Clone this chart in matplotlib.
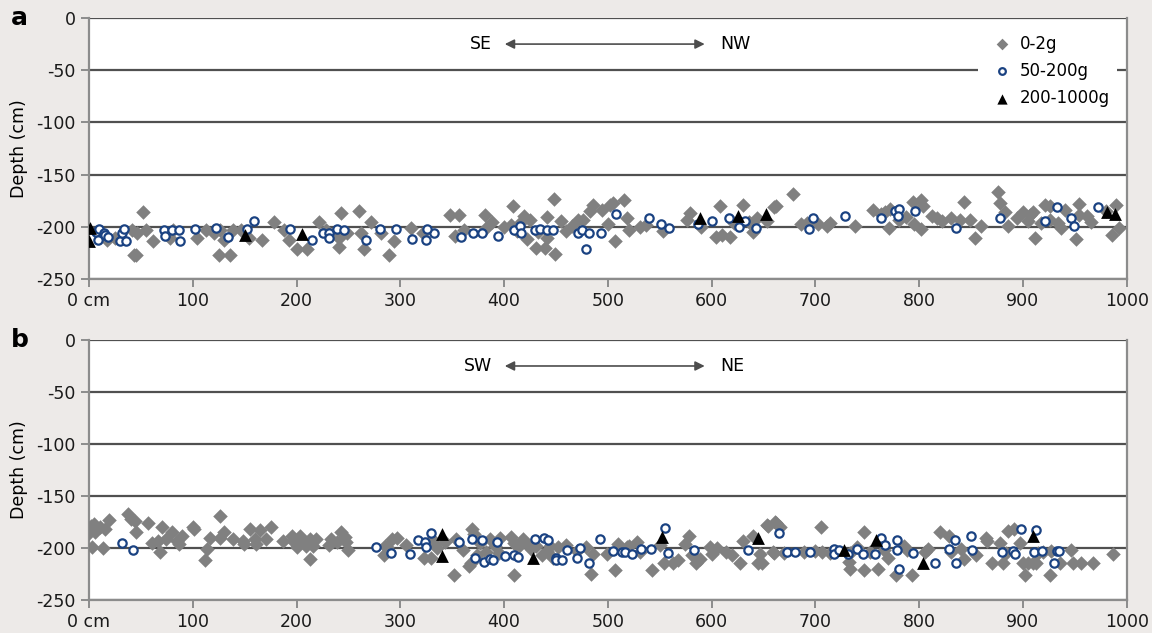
import matplotlib
matplotlib.use('Agg')
import matplotlib.pyplot as plt
import numpy as np

plt.rcParams['font.family'] = ['DejaVu Sans']
plt.rcParams['axes.unicode_minus'] = False

# panel a : SE - NW transect
a_small_x = [52, 10, 17, 25, 43, 45, 41, 46, 62, 55, 81, 78, 104, 113, 120, 126, 125, 136, 130, 139,
             146, 154, 167, 178, 188, 193, 200, 210, 222, 228, 236, 241, 243, 241, 249, 260, 262, 265,
             272, 281, 289, 294, 310, 322, 348, 357, 353, 361, 382, 388, 383, 409, 407, 412, 419, 425,
             422, 431, 439, 441, 448, 449, 441, 455, 460, 471, 476, 483, 486, 494, 502, 505, 500, 507,
             516, 518, 531, 537, 553, 576, 579, 608, 610, 618, 630, 636, 644, 660, 653, 662, 678, 686,
             692, 703, 711, 714, 738, 756, 763, 767, 771, 772, 781, 787, 794, 802, 804, 802, 812, 817,
             822, 831, 839, 843, 849, 854, 876, 878, 883, 886, 894, 900, 907, 910, 912, 917, 921, 926,
             926, 934, 937, 941, 951, 954, 954, 962, 966, 980, 986, 990, 993, 400, 415, 433, 465, 520,
             590, 604, 622, 640, 795, 860, 905]
a_small_y = [-186, -206, -213, -211, -227, -227, -203, -206, -214, -203, -203, -211, -211, -203, -206, -203, -227, -227, -213, -203,
             -203, -211, -213, -195, -203, -213, -221, -221, -195, -203, -206, -211, -187, -219, -206, -185, -206, -221,
             -195, -206, -227, -214, -201, -206, -189, -189, -209, -203, -189, -195, -201, -180, -198, -204, -190, -193,
             -212, -220, -220, -191, -173, -226, -211, -194, -204, -193, -193, -185, -179, -184, -179, -177, -197, -214,
             -174, -192, -200, -198, -204, -193, -187, -180, -208, -210, -179, -195, -192, -181, -194, -180, -169, -197,
             -196, -197, -199, -196, -199, -184, -188, -186, -201, -183, -193, -191, -176, -174, -180, -202, -190, -192,
             -194, -192, -193, -176, -193, -211, -167, -177, -186, -199, -192, -186, -189, -186, -211, -196, -179, -180,
             -193, -196, -201, -184, -212, -178, -189, -190, -195, -185, -208, -179, -201, -200, -196, -205, -199, -203,
             -200, -210, -196, -205, -197, -199, -194]
a_mid_x = [7, 9, 10, 14, 15, 18, 30, 32, 34, 36, 72, 73, 80, 87, 88, 102, 122, 134, 152, 159, 194, 215, 225,
           231, 231, 239, 246, 267, 280, 296, 311, 325, 332, 326, 358, 370, 379, 394, 410, 415, 416, 430,
           435, 441, 447, 471, 475, 482, 479, 493, 508, 540, 551, 559, 587, 600, 617, 626, 632, 643, 694,
           698, 729, 763, 777, 781, 780, 796, 836, 878, 921, 933, 946, 949, 972]
a_mid_y = [-205, -213, -202, -206, -208, -210, -214, -206, -202, -214, -203, -209, -203, -203, -214, -202, -201, -210, -202, -194, -202, -213, -206,
           -206, -211, -202, -203, -213, -202, -202, -212, -213, -206, -202, -210, -206, -206, -209, -203, -199, -206, -203,
           -202, -203, -203, -206, -203, -206, -221, -206, -188, -192, -197, -201, -197, -194, -192, -200, -194, -201, -202,
           -192, -190, -192, -185, -183, -190, -185, -201, -192, -194, -181, -192, -199, -181]
a_big_x = [1, 0, 150, 205, 589, 625, 652, 981, 989]
a_big_y = [-201, -214, -208, -207, -192, -190, -188, -186, -188]

# panel b : SW - NE transect
b_small_x = [0, 2, 5, 6, 3, 13, 11, 15, 19, 38, 40, 44, 45, 57, 61, 66, 68, 70, 74, 80, 85, 87, 90, 100, 101,
             112, 114, 117, 126, 126, 130, 139, 148, 149, 155, 160, 161, 165, 171, 175, 187, 196, 197, 200,
             203, 206, 209, 213, 213, 216, 219, 231, 233, 239, 243, 247, 248, 250, 287, 292, 297, 284,
             285, 305, 323, 330, 331, 333, 343, 352, 354, 366, 368, 369, 371, 374, 377, 383, 386, 391, 396,
             407, 410, 410, 413, 418, 422, 426, 431, 437, 441, 444, 447, 460, 479, 484, 486, 499, 507, 510,
             518, 528, 531, 543, 550, 554, 563, 574, 578, 581, 585, 589, 598, 600, 614, 627, 630, 640, 645,
             653, 661, 659, 647, 649, 654, 662, 666, 660, 670, 689, 705, 706, 714, 732, 733, 733, 747, 747, 753,
             760, 766, 778, 785, 788, 793, 806, 809, 820, 829, 831, 843, 855, 864, 865, 870, 878, 881, 884,
             886, 891, 897, 900, 902, 905, 910, 913, 915, 919, 926, 927, 936, 946, 948, 956, 968, 987,
             335, 360, 395, 452, 470, 520, 568, 605, 620, 700, 740, 770, 840]
b_small_y = [-186, -179, -177, -185, -199, -200, -180, -182, -173, -167, -172, -174, -185, -176, -195, -193, -204, -180, -191, -185, -193, -196, -188, -180, -182,
             -212, -201, -190, -169, -190, -185, -191, -193, -196, -182, -191, -196, -183, -191, -180, -193, -188, -193, -199,
             -188, -193, -198, -211, -191, -198, -191, -197, -191, -194, -185, -189, -194, -202, -199, -191, -190, -207,
             -198, -197, -210, -210, -191, -196, -194, -226, -191, -217, -214, -182, -187, -207, -195, -204, -191, -198, -190,
             -189, -195, -226, -199, -191, -196, -201, -198, -207, -203, -198, -210, -197, -199, -225, -206, -206, -221, -196,
             -199, -194, -204, -221, -197, -214, -214, -196, -188, -207, -214, -211, -199, -206, -204, -214, -193, -188, -214,
             -178, -175, -204, -206, -214, -179, -176, -180, -205, -205, -204, -180, -204, -205, -213, -220, -205, -185, -221, -204,
             -220, -202, -226, -198, -202, -226, -204, -201, -185, -188, -204, -211, -207, -190, -193, -214, -195, -214, -205,
             -184, -182, -195, -214, -226, -214, -214, -214, -205, -204, -226, -203, -214, -202, -214, -214, -214, -206,
             -200, -202, -205, -199, -203, -198, -212, -200, -207, -203, -199, -210, -201]
b_mid_x = [32, 42, 277, 291, 309, 317, 324, 325, 330, 357, 369, 372, 379, 381, 386, 389, 393, 401, 410, 413,
           430, 438, 442, 450, 450, 456, 461, 470, 473, 482, 492, 505, 514, 517, 523, 532, 542, 555, 558,
           583, 635, 665, 673, 680, 695, 718, 718, 723, 731, 740, 746, 757, 763, 767, 779, 779, 781, 794,
           815, 829, 835, 836, 850, 851, 880, 890, 892, 898, 911, 913, 918, 930, 933, 935]
b_mid_y = [-195, -202, -199, -205, -206, -192, -194, -199, -186, -194, -191, -210, -192, -213, -211, -212, -194, -208, -207, -209,
           -191, -190, -192, -210, -212, -212, -202, -210, -200, -214, -191, -203, -204, -204, -206, -201, -201, -181, -205,
           -202, -202, -186, -204, -204, -204, -201, -206, -202, -206, -201, -206, -206, -190, -197, -192, -202, -220, -205,
           -214, -201, -192, -214, -188, -202, -204, -203, -206, -182, -204, -183, -203, -214, -203, -203]
b_big_x = [340, 340, 428, 552, 645, 728, 758, 804, 910]
b_big_y = [-187, -208, -210, -189, -190, -202, -192, -214, -188]

fig = plt.figure(figsize=(11.52, 6.33), dpi=100, facecolor='#edeae8')
ax1 = fig.add_axes([0.0773, 0.5592, 0.9007, 0.4124])
ax2 = fig.add_axes([0.0773, 0.0521, 0.9007, 0.4108])

panels = [(ax1, a_small_x, a_small_y, a_mid_x, a_mid_y, a_big_x, a_big_y, 'a', 'SE', 'NW'),
          (ax2, b_small_x, b_small_y, b_mid_x, b_mid_y, b_big_x, b_big_y, 'b', 'SW', 'NE')]

for ax, sx, sy, mx, my, bx, by, lab, left, right in panels:
    ax.set_facecolor('white')
    ax.set_xlim(0, 1000)
    ax.set_ylim(-250, 0)
    ax.set_axisbelow(True)
    ax.grid(axis='y', color='#505050', linewidth=1.6)
    ax.set_yticks([0, -50, -100, -150, -200, -250])
    ax.set_xticks(range(0, 1001, 100))
    ax.set_xticklabels(['0 cm'] + [str(v) for v in range(100, 1001, 100)])
    for s in ['left', 'bottom', 'right']:
        ax.spines[s].set_color('#8c8c8c')
        ax.spines[s].set_linewidth(1.6)
    ax.spines['top'].set_visible(False)
    ax.tick_params(axis='both', colors='#8c8c8c', labelcolor='#1a1a1a', labelsize=12.5,
                   length=6, width=1.4, direction='out')
    ax.set_ylabel('Depth (cm)', fontsize=12.5, labelpad=6)

    ax.scatter(sx, sy, marker='D', s=55, color='#808080', linewidths=0, label='0-2g', zorder=3)
    ax.scatter(mx, my, marker='o', s=36, facecolors='white', edgecolors='#1a4282',
               linewidths=1.6, label='50-200g', zorder=4)
    ax.scatter(bx, by, marker='^', s=85, color='black', linewidths=0, label='200-1000g', zorder=5)

    ax.annotate('', xy=(398, -25), xytext=(596, -25),
                arrowprops=dict(arrowstyle='<|-|>', color='#4d4d4d', lw=1.2, mutation_scale=14))
    ax.text(388, -25, left, ha='right', va='center', fontsize=12.5)
    ax.text(608, -25, right, ha='left', va='center', fontsize=12.5)
    ax.text(-0.075, 1.0, lab, transform=ax.transAxes, fontsize=18, fontweight='bold',
            ha='left', va='center')

leg = ax1.legend(loc='upper right', fontsize=12, frameon=True, facecolor='white',
                 edgecolor='none', framealpha=1, handletextpad=0.1, borderaxespad=0.6,
                 labelspacing=0.55, scatterpoints=1, markerscale=0.8)
leg.get_frame().set_linewidth(0)

fig.savefig('out.png', dpi=100, facecolor=fig.get_facecolor())
